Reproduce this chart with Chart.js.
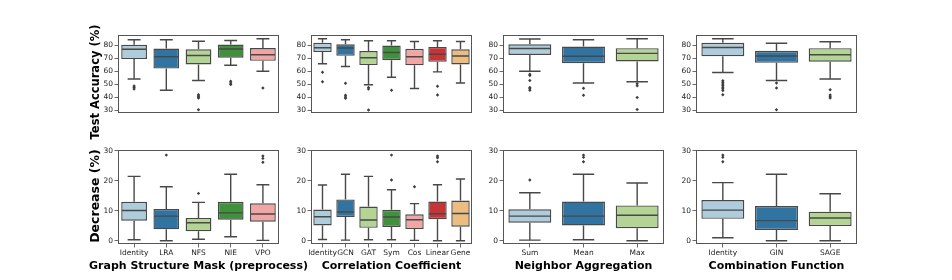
<!DOCTYPE html>
<html><head><meta charset="utf-8">
<script src="https://cdn.jsdelivr.net/npm/chart.js@4.4.0/dist/chart.umd.min.js"></script>
<style>
html,body{margin:0;padding:0;background:#fff;}
#wrap{position:relative;width:952px;height:280px;overflow:hidden;font-family:'DejaVu Sans';}
canvas{position:absolute;}
.xt{position:absolute;font:bold 11px 'DejaVu Sans';line-height:13px;color:#000;white-space:nowrap;transform:translateX(-50%);}
.yt{position:absolute;font-family:'DejaVu Sans';font-weight:bold;line-height:14px;color:#000;white-space:nowrap;transform:translate(-50%,-50%) rotate(-90deg);}
</style></head><body><div id="wrap"></div>
<script>
// ---------- DATA ----------
// stats per category: [whisker low, Q1, median, Q3, whisker high]
const GSM_CATS = ['Identity','LRA','NFS','NIE','VPO'];
const GSM_ACC = [[54.0,69.4,76.9,80.4,84.2],[45.4,62.1,71.2,77.5,84.2],[52.9,65.2,72.1,76.9,83.1],[64.6,70.4,77.1,80.6,83.7],[60.0,68.0,72.7,77.9,85.0]];
const GSM_ACC_OUT = [[48.7,47.5,46.3],[],[41.9,41.0,40.2,39.4,30.4],[52.3,51.0,49.8],[47.1]];
const GSM_DEC = [[0.3,6.7,10.1,13.0,21.5],[0,3.8,8.2,10.6,18.0],[0.5,3.2,6.0,7.6,12.8],[1.3,7.0,9.3,13.0,22.2],[0.1,6.35,8.9,12.5,18.7]];
const GSM_DEC_OUT = [[],[28.6],[15.8],[],[28.3,27.5,26.2]];

const CC_CATS = ['Identity','GCN','GAT','Sym','Cos','Linear','Gene'];
const CC_ACC = [[65.8,74.8,78.1,81.9,85.0],[63.7,71.9,77.9,80.8,84.2],[49.6,64.8,70.4,75.6,83.5],[55.4,68.5,74.4,79.8,83.5],[46.7,64.6,71.2,77.3,82.9],[59.5,67.3,73.1,78.7,83.5],[51.0,65.2,71.7,76.9,82.9]];
const CC_ACC_OUT = [[59.2,51.9],[50.8,41.5,40.2,39.2],[47.5,46.3,30.2],[45.4],[],[48.5,41.7],[]];
const CC_DEC = [[0.4,5.1,8.0,10.4,18.6],[0.2,7.9,9.6,13.8,22.2],[0.3,4.3,6.9,11.4,21.5],[0.3,4.6,7.9,10.3,17.0],[0.1,3.9,7.0,8.8,12.4],[0,7.2,9.0,13.1,18.7],[0,4.7,9.1,13.4,20.6]];
const CC_DEC_OUT = [[],[],[],[28.6,20.3],[18.0],[28.3,27.7,26.4],[]];

const NA_CATS = ['Sum','Mean','Max'];
const NA_ACC = [[60.0,72.5,77.5,80.8,84.8],[51.0,66.2,71.5,79.0,84.2],[51.9,67.5,73.8,77.8,85.0]];
const NA_ACC_OUT = [[57.7,56.7,52.9,47.5,46.5,45.4],[46.9,41.5],[50.4,48.8,39.8,30.6]];
const NA_DEC = [[0.2,6.0,8.2,10.5,16.0],[0.3,5.1,8.2,13.1,22.2],[0,4.2,8.5,11.8,19.3]];
const NA_DEC_OUT = [[20.3],[28.6,27.9,26.4],[]];

const CF_CATS = ['Identity','GIN','SAGE'];
const CF_ACC = [[59.0,71.5,78.3,81.9,85.0],[52.9,66.5,71.7,75.8,81.5],[54.1,67.4,72.7,77.8,82.7]];
const CF_ACC_OUT = [[52.7,51.5,50.2,49.0,47.7,46.5,45.2,41.9],[51.0,47.1,30.4],[45.8,41.7,40.4,39.4]];
const CF_DEC = [[1.0,7.3,10.2,13.6,19.4],[0,3.6,6.7,11.6,22.2],[0,4.9,7.6,9.7,15.7]];
const CF_DEC_OUT = [[28.6,27.9,26.4],[],[]];

const ACC_TICKS = [30,40,50,60,70,80];
const DEC_TICKS = [0,10,20,30];
const X_TITLES = ['Graph Structure Mask (preprocess)','Correlation Coefficient','Neighbor Aggregation','Combination Function'];
const Y_TITLES = ['Test Accuracy (%)','Decrease (%)'];

// ---------- STYLE ----------
const PALETTE = ['#aeccdb','#3274a1','#b3d495','#40913b','#efa6a5','#ca3335','#ebbd81'];
const LINE = '#484848';
const LW = 1.4;
const FRAME = '#555555';
const TXT = '#222222';

const boxPlugin = {
  id: 'boxWhiskers',
  afterDatasetsDraw(chart, args, opts) {
    const stats = opts.stats;
    const meta = chart.getDatasetMeta(0);
    const ys = chart.scales.y;
    const ctx = chart.ctx;
    ctx.save();
    ctx.strokeStyle = LINE; ctx.lineWidth = LW; ctx.lineCap = 'butt';
    stats.forEach((s, i) => {
      const bar = meta.data[i];
      const x = bar.x, w = bar.width;
      const [lo, q1, med, q3, hi] = s.map(v => ys.getPixelForValue(v));
      ctx.beginPath();
      ctx.moveTo(x, q1); ctx.lineTo(x, lo);
      ctx.moveTo(x, q3); ctx.lineTo(x, hi);
      ctx.moveTo(x - w/4, lo); ctx.lineTo(x + w/4, lo);
      ctx.moveTo(x - w/4, hi); ctx.lineTo(x + w/4, hi);
      ctx.moveTo(x - w/2 + 0.7, med); ctx.lineTo(x + w/2 - 0.7, med);
      ctx.stroke();
    });
    const a = chart.chartArea;
    ctx.strokeStyle = FRAME; ctx.lineWidth = 1;
    ctx.strokeRect(Math.round(a.left)+0.5, Math.round(a.top)+0.5, Math.round(a.right-a.left)-1, Math.round(a.bottom-a.top)-1);
    ctx.restore();
  }
};

const wrap = document.getElementById('wrap');
const PANEL_LEFT = [118, 311, 503, 696];
const PANEL_W = 161;

function makePanel(col, row, cats, stats, outs, yMin, yMax, ticks) {
  const cv = document.createElement('canvas');
  const left = PANEL_LEFT[col] - 40;
  const w = 40 + PANEL_W + 6;
  const top = row === 0 ? 29 : 144;
  const h = row === 0 ? 104 : 116;
  cv.width = w; cv.height = h;
  cv.style.left = left + 'px'; cv.style.top = top + 'px';
  cv.style.width = w + 'px'; cv.style.height = h + 'px';
  wrap.appendChild(cv);
  const outPts = [];
  outs.forEach((arr, i) => arr.forEach(v => outPts.push({x: cats[i], y: v})));
  new Chart(cv, {
    type: 'bar',
    data: {
      labels: cats,
      datasets: [{
        type: 'bar',
        data: stats.map(s => [s[1], s[3]]),
        backgroundColor: cats.map((c, i) => PALETTE[i]),
        borderColor: LINE,
        borderWidth: LW,
        borderSkipped: false,
        barPercentage: 0.8,
        categoryPercentage: 1.0
      }, {
        type: 'scatter',
        data: outPts,
        pointStyle: 'rectRot',
        pointRadius: 1.7,
        backgroundColor: '#3d3d3d',
        borderWidth: 0,
        showLine: false
      }]
    },
    options: {
      responsive: false, animation: false, devicePixelRatio: 1,
      layout: {padding: {top: 4, bottom: row === 0 ? 4 : 0, left: 0, right: 6}},
      plugins: {legend: {display: false}, tooltip: {enabled: false}, boxWhiskers: {stats: stats}},
      scales: {
        x: {
          type: 'category', offset: true, display: row === 1,
          afterFit: ax => { ax.height = 16; },
          ticks: {font: {family: 'DejaVu Sans', size: 7.5}, color: TXT, padding: 1.5, maxRotation: 0, autoSkip: false},
          grid: {drawOnChartArea: false, offset: false, tickLength: 3.5, tickColor: '#444', tickWidth: 0.8},
          border: {display: false}
        },
        y: {
          min: yMin, max: yMax,
          afterBuildTicks: ax => { ax.ticks = ticks.map(v => ({value: v})); },
          afterFit: ax => { ax.width = 40; },
          ticks: {font: {family: 'DejaVu Sans', size: 7.5}, color: TXT, padding: 1.5},
          grid: {drawOnChartArea: false, tickLength: 3.5, tickColor: '#444', tickWidth: 0.8},
          border: {display: false}
        }
      }
    },
    plugins: [boxPlugin]
  });
}

const PANELS = [
  [GSM_CATS, GSM_ACC, GSM_ACC_OUT, GSM_DEC, GSM_DEC_OUT],
  [CC_CATS, CC_ACC, CC_ACC_OUT, CC_DEC, CC_DEC_OUT],
  [NA_CATS, NA_ACC, NA_ACC_OUT, NA_DEC, NA_DEC_OUT],
  [CF_CATS, CF_ACC, CF_ACC_OUT, CF_DEC, CF_DEC_OUT]
];
PANELS.forEach((p, c) => {
  makePanel(c, 0, p[0], p[1], p[2], 27.9, 87.9, ACC_TICKS);
  makePanel(c, 1, p[0], p[3], p[4], -1.1, 30.3, DEC_TICKS);
  const t = document.createElement('div');
  t.className = 'xt'; t.textContent = X_TITLES[c];
  t.style.left = (PANEL_LEFT[c] + PANEL_W/2) + 'px'; t.style.top = '259px';
  wrap.appendChild(t);
});
Y_TITLES.forEach((s, r) => {
  const t = document.createElement('div');
  t.className = 'yt'; t.textContent = s;
  t.style.fontSize = (r === 0 ? 11.5 : 12.5) + 'px';
  t.style.left = '95px'; t.style.top = (r === 0 ? 82 : 196) + 'px';
  wrap.appendChild(t);
});
</script></body></html>
